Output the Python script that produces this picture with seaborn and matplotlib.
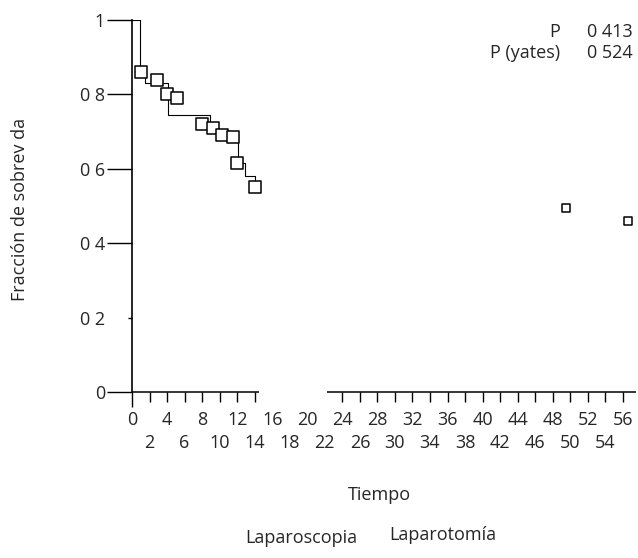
import matplotlib
matplotlib.use("Agg")
import matplotlib.pyplot as plt
import seaborn as sns
import pandas as pd

# Kaplan-Meier step curve
km_time = [0, 0.9, 1.5, 4.1, 8.9, 12.1, 12.9, 14.0, 14.6]
km_surv = [1.0, 0.86, 0.83, 0.745, 0.70, 0.615, 0.58, 0.55, 0.55]

# censored observations (open squares)
cens_time = [1.0, 2.85, 4.0, 5.1, 8.0, 9.2, 10.3, 11.5, 12.0, 14.0, 49.5, 56.6]
cens_surv = [0.86, 0.84, 0.80, 0.79, 0.72, 0.71, 0.69, 0.685, 0.615, 0.55, 0.495, 0.46]

x_ticks_top = list(range(0, 57, 4))     # first label row
x_ticks_low = list(range(2, 55, 4))     # second label row
y_ticks = [0, 0.2, 0.4, 0.6, 0.8, 1.0]
y_tick_labels = ["0", "0 2", "0 4", "0 6", "0 8", "1"]
p_labels = ["P", "P (yates)"]
p_values = ["0 413", "0 524"]
groups = ["Laparoscopia", "Laparotomía"]

sns.set_style("white")
plt.rcParams["font.family"] = ["Open Sans", "DejaVu Sans"]
plt.rcParams["font.size"] = 13

fig = plt.figure(figsize=(6.38, 5.58), dpi=100)
ax = fig.add_axes([132 / 638, 166 / 558, 504 / 638, 372 / 558])

km = pd.DataFrame({"t": km_time, "s": km_surv})
cens = pd.DataFrame({"t": cens_time, "s": cens_surv})
near = cens[cens["t"] < 20]
far = cens[cens["t"] >= 20]

sns.lineplot(data=km, x="t", y="s", drawstyle="steps-post", color="black",
             linewidth=0.8, ax=ax, estimator=None, sort=False)
sns.scatterplot(data=near, x="t", y="s", marker="s", s=70, facecolor="white",
                edgecolor="black", linewidth=1.1, ax=ax, zorder=3)
sns.scatterplot(data=far, x="t", y="s", marker="s", s=28, facecolor="white",
                edgecolor="black", linewidth=1.1, ax=ax, zorder=3, clip_on=False)

ax.set_xlim(0, 57.5)
ax.set_ylim(0, 1.0)

# axes frame: left spine, broken bottom axis
for side in ["top", "right", "bottom"]:
    ax.spines[side].set_visible(False)
ax.spines["left"].set_color("black")
ax.spines["left"].set_linewidth(1.2)
ax.hlines(0, 0, 14.5, color="black", linewidth=1.1, clip_on=False)
ax.hlines(0, 22.3, 57.5, color="black", linewidth=1.1, clip_on=False)

# x ticks: labels in two staggered rows
ax.set_xticks(x_ticks_top)
ax.set_xticklabels([str(v) for v in x_ticks_top])
ax.set_xticks(x_ticks_low, minor=True)
ax.set_xticklabels([str(v) for v in x_ticks_low], minor=True)
ax.tick_params(axis="x", which="major", direction="out", length=7, width=1,
               color="black", bottom=True, pad=7, labelsize=13)
ax.tick_params(axis="x", which="minor", direction="out", length=7, width=1,
               color="black", bottom=True, pad=23, labelsize=13)
for v, tick in zip(x_ticks_top, ax.xaxis.get_major_ticks()):
    if 16 <= v <= 22:
        tick.tick1line.set_visible(False)
    if v == 0:
        tick.tick1line.set_markersize(11)
for v, tick in zip(x_ticks_low, ax.xaxis.get_minor_ticks()):
    if 16 <= v <= 22:
        tick.tick1line.set_visible(False)

ax.set_yticks(y_ticks)
ax.set_yticklabels(y_tick_labels)
ax.tick_params(axis="y", direction="out", length=18, width=1, color="black",
               left=True, pad=1.5)
ax.yaxis.get_major_ticks()[1].tick1line.set_markersize(3)

ax.set_ylabel("Fracción de sobrev da")
ax.yaxis.set_label_coords(-0.205, 0.49)
ax.set_xlabel("Tiempo")
ax.xaxis.set_label_coords(0.49, -0.252)

# p-value annotations
ax.text(0.849, 0.968, p_labels[0], transform=ax.transAxes, ha="right", va="center")
ax.text(0.849, 0.911, p_labels[1], transform=ax.transAxes, ha="right", va="center")
ax.text(0.903, 0.968, p_values[0], transform=ax.transAxes, ha="left", va="center")
ax.text(0.903, 0.911, p_values[1], transform=ax.transAxes, ha="left", va="center")

# group names under the axis
fig.text(301 / 638, 1 - 538 / 558, groups[0], ha="center", va="center")
fig.text(443 / 638, 1 - 535 / 558, groups[1], ha="center", va="center")

fig.savefig("out.png", dpi=100)
